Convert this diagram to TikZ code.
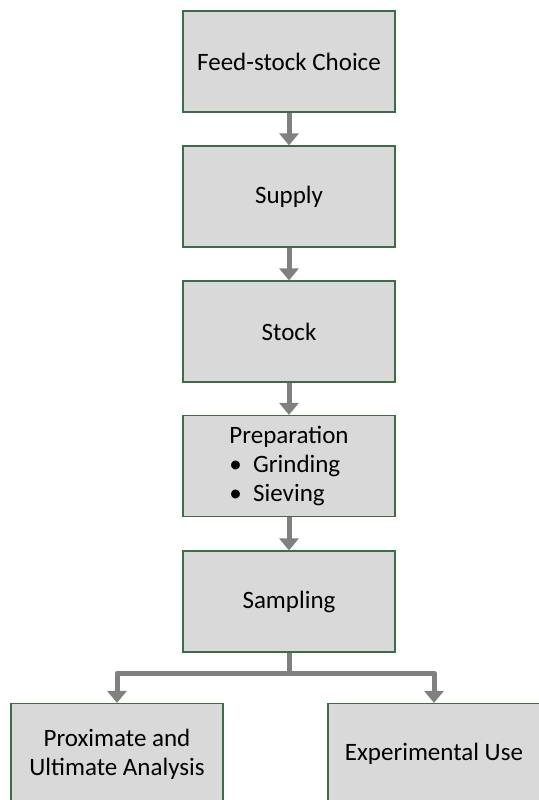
\documentclass[tikz,border=0pt]{standalone}
\usepackage{fontspec}
\setmainfont{Carlito}
\usetikzlibrary{arrows.meta}

\definecolor{boxfill}{HTML}{D9D9D9}
\definecolor{boxline}{HTML}{3E6B48}
\definecolor{arrowgray}{HTML}{808080}

\tikzset{
  stage/.style={draw=boxline, line width=0.6pt, fill=boxfill, rectangle, align=center,
    minimum width=106pt, minimum height=50.5pt, inner sep=0pt,
    font=\fontsize{12.5}{14.5}\selectfont},
  flow/.style={draw=arrowgray, line width=2.5pt, line join=round,
    -{Triangle[width=9.5pt,length=6pt]}},
}

\begin{document}
\begin{tikzpicture}[x=0.5pt,y=-0.5pt]
  \useasboundingbox (0,0) rectangle (539,800);
  \clip (0,0) rectangle (539,800);

  \node[stage] (choice) at (289, 61.5) {Feed-stock Choice};
  \node[stage] (supply) at (289, 196.5) {Supply};
  \node[stage] (stock) at (289, 331.5) {Stock};
  \node[stage, align=left] (prep) at (289, 466) {Preparation\\ \textbullet\hspace{0.45em}Grinding\\ \textbullet\hspace{0.45em}Sieving};
  \node[stage] (sampling) at (289, 601.5) {Sampling};
  \node[stage] (analysis) at (117, 754) {Proximate and\\ Ultimate Analysis};
  \node[stage] (usage) at (434, 754) {Experimental Use};
  \coordinate (split) at (289, 673);

  \draw[flow] (choice) -- (supply);
  \draw[flow] (supply) -- (stock);
  \draw[flow] (stock) -- (prep);
  \draw[flow] (prep) -- (sampling);
  \draw[flow, -] (sampling) -- (split);
  \draw[flow] (split) -| (analysis);
  \draw[flow] (split) -| (usage);
\end{tikzpicture}
\end{document}
